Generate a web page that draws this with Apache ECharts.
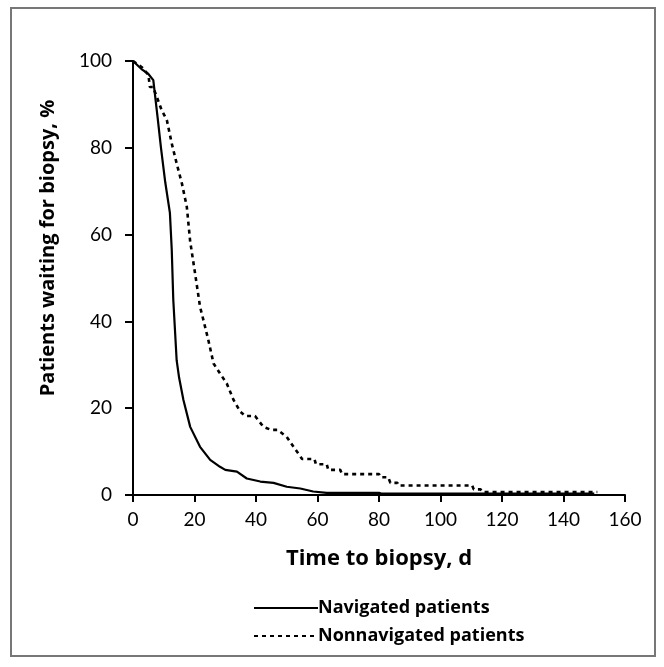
<!DOCTYPE html>
<html>
<head>
<meta charset="utf-8">
<script src="https://cdn.jsdelivr.net/npm/echarts@6/dist/echarts.min.js"></script>
<style>html,body{margin:0;padding:0;background:#fff;}#c{width:664px;height:667px;}</style>
</head>
<body>
<div id="c"></div>
<script>
const xTicks = [0, 20, 40, 60, 80, 100, 120, 140, 160];
const yTicks = [0, 20, 40, 60, 80, 100];
const navDays = [0, 3, 5, 6.6, 8, 9.1, 10.5, 12, 12.6, 13.1, 14.2, 15, 16.4, 18.6, 21.8, 25.1, 28.3, 30, 33.8, 37, 41.4, 45.7, 50, 54.4, 58.6, 63, 80, 81, 150];
const navPct  = [100, 98, 97, 95.6, 87, 80, 72, 65, 56.5, 45, 31, 27, 21.9, 15.7, 11.1, 8.1, 6.5, 5.8, 5.4, 3.8, 3.1, 2.8, 1.9, 1.5, 0.8, 0.5, 0.5, 0.3, 0.3];
const nonDays = [0, 3, 5, 5.5, 6.5, 7.7, 9.3, 11, 12.6, 14.2, 15.9, 17.5, 18.6, 20.2, 21.8, 22.9, 24.5, 26.2, 28.3, 30.5, 32.7, 34.9, 36.5, 39.7, 42.4, 45, 47, 50, 52.2, 55, 59, 59.5, 63, 63.5, 67.4, 68, 80, 80.5, 83, 83.7, 86, 86.3, 110.3, 110.8, 113, 113.6, 151];
const nonPct  = [100, 98.5, 96.8, 94, 94, 91.8, 88.7, 86.4, 81, 76.4, 71.8, 66.4, 58.4, 51, 43.4, 40.3, 35.7, 30.3, 28, 25.7, 21.9, 19.2, 18.2, 18.2, 15.7, 15, 15, 13.4, 11.1, 8.3, 8.3, 7.1, 7.1, 5.8, 5.8, 4.8, 4.8, 4.1, 4.1, 2.8, 2.8, 2.2, 2.2, 1.3, 1.3, 0.7, 0.7];
const seriesNames = ['Navigated patients', 'Nonnavigated patients'];
const xTitle = 'Time to biopsy, d';
const yTitle = 'Patients waiting for biopsy, %';

const zip = (a, b) => a.map((v, i) => [v, b[i]]);
const FONT = '"Open Sans", Lato, sans-serif';
const LFONT = 'Lato, "Open Sans", sans-serif';
const chart = echarts.init(document.getElementById('c'), null, {renderer: 'canvas'});
chart.setOption({
  backgroundColor: '#fff',
  animation: false,
  grid: {left: 133, right: 39, top: 61, bottom: 172, containLabel: false},
  xAxis: {
    type: 'value', min: 0, max: 160, interval: 20,
    name: xTitle, nameLocation: 'middle', nameGap: 53,
    nameTextStyle: {fontFamily: FONT, fontWeight: 'bold', fontSize: 22, color: '#000'},
    axisLine: {show: true, lineStyle: {color: '#000', width: 2}},
    axisTick: {show: true, length: 7, lineStyle: {color: '#000', width: 2}},
    axisLabel: {fontFamily: LFONT, fontSize: 19, color: '#000', margin: 15},
    splitLine: {show: false}
  },
  yAxis: {
    type: 'value', min: 0, max: 100, interval: 20,
    axisLine: {show: true, lineStyle: {color: '#000', width: 2}},
    axisTick: {show: true, length: 8, lineStyle: {color: '#000', width: 2}},
    axisLabel: {fontFamily: LFONT, fontSize: 19, color: '#000', margin: 21},
    splitLine: {show: false}
  },
  legend: {
    orient: 'vertical', left: 248, top: 594, itemWidth: 64, itemHeight: 14, itemGap: 10,
    itemStyle: {opacity: 0},
    textStyle: {fontFamily: FONT, fontWeight: 'bold', fontSize: 18, color: '#000', padding: [0,0,0,-5]},
    data: seriesNames
  },
  graphic: [
    {type: 'rect', shape: {x: 11, y: 8, width: 644, height: 648}, style: {fill: 'none', stroke: '#777', lineWidth: 2}, silent: true, z: -1},
    {type: 'text', x: 48, y: 248, rotation: Math.PI / 2,
     style: {text: yTitle, font: 'bold 20px ' + FONT, fill: '#000', align: 'center', verticalAlign: 'middle'}}
  ],
  series: [
    {name: seriesNames[0], type: 'line', data: zip(navDays, navPct), showSymbol: false, symbol: 'none',
     lineStyle: {color: '#000', width: 2.2, type: 'solid'}, itemStyle: {color: '#000'}},
    {name: seriesNames[1], type: 'line', data: zip(nonDays, nonPct), showSymbol: false, symbol: 'none',
     lineStyle: {color: '#000', width: 2.6, type: [4, 4]}, itemStyle: {color: '#000'}}
  ]
});
</script>
</body>
</html>
